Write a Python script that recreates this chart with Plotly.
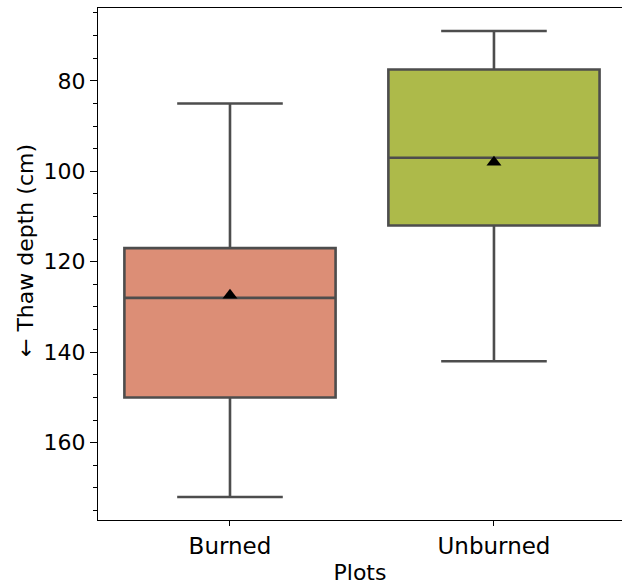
import plotly.graph_objects as go

categories = ["Burned", "Unburned"]
q1 = [117.0, 77.5]
median = [128.0, 97.0]
q3 = [150.0, 112.0]
lower_whisker = [85.0, 69.0]
upper_whisker = [172.0, 142.0]
means = [127.4, 98.0]
fill_colors = ["#DC8E76", "#ADBA4A"]

line_col = "#4d4d4d"
font = dict(family="DejaVu Sans", size=22, color="#000000")

fig = go.Figure()
for i, cat in enumerate(categories):
    fig.add_trace(go.Box(
        x=[cat], q1=[q1[i]], median=[median[i]], q3=[q3[i]],
        lowerfence=[lower_whisker[i]], upperfence=[upper_whisker[i]],
        fillcolor=fill_colors[i], line=dict(color=line_col, width=2.6),
        width=0.8, whiskerwidth=0.5, boxpoints=False, showlegend=False,
        hoverinfo="skip",
    ))
fig.add_trace(go.Scatter(
    x=categories, y=means, mode="markers",
    marker=dict(symbol="triangle-up", size=13, color="black",
                line=dict(width=0)),
    showlegend=False, hoverinfo="skip",
))

L, R, T, B = 98, 0, 8, 67
PW, PH = 622 - L - R, 587 - T - B

fig.update_layout(
    width=622, height=587,
    margin=dict(l=L, r=R, t=T, b=B),
    paper_bgcolor="white", plot_bgcolor="white",
    boxmode="overlay",
    font=font,
)
fig.add_annotation(
    text="← Thaw depth (cm)", textangle=-90, showarrow=False,
    xref="paper", yref="paper",
    x=(25 - L) / PW, y=(587 - B - 251) / PH,
    xanchor="center", yanchor="middle", font=font,
)
fig.update_xaxes(
    type="category", categoryorder="array", categoryarray=categories,
    range=[-0.5, 1.485],
    showline=True, linecolor="black", linewidth=1.3, mirror=True,
    ticks="outside", ticklen=5, tickwidth=1.2, tickcolor="black",
    showgrid=False, zeroline=False,
    title=dict(text="Plots", font=font, standoff=6),
    tickfont=dict(family="DejaVu Sans", size=23, color="#000000"),
)
fig.update_yaxes(
    range=[177.1, 63.9],
    tickvals=[80, 100, 120, 140, 160],
    showline=True, linecolor="black", linewidth=1.3, mirror=False,
    ticks="outside", ticklen=7, tickwidth=1.2, tickcolor="black",
    minor=dict(dtick=5, tick0=0, ticks="outside", ticklen=4, tickwidth=1,
               tickcolor="black", showgrid=False),
    showgrid=False, zeroline=False,
    tickfont=font,
)

fig.write_html("out.html")
